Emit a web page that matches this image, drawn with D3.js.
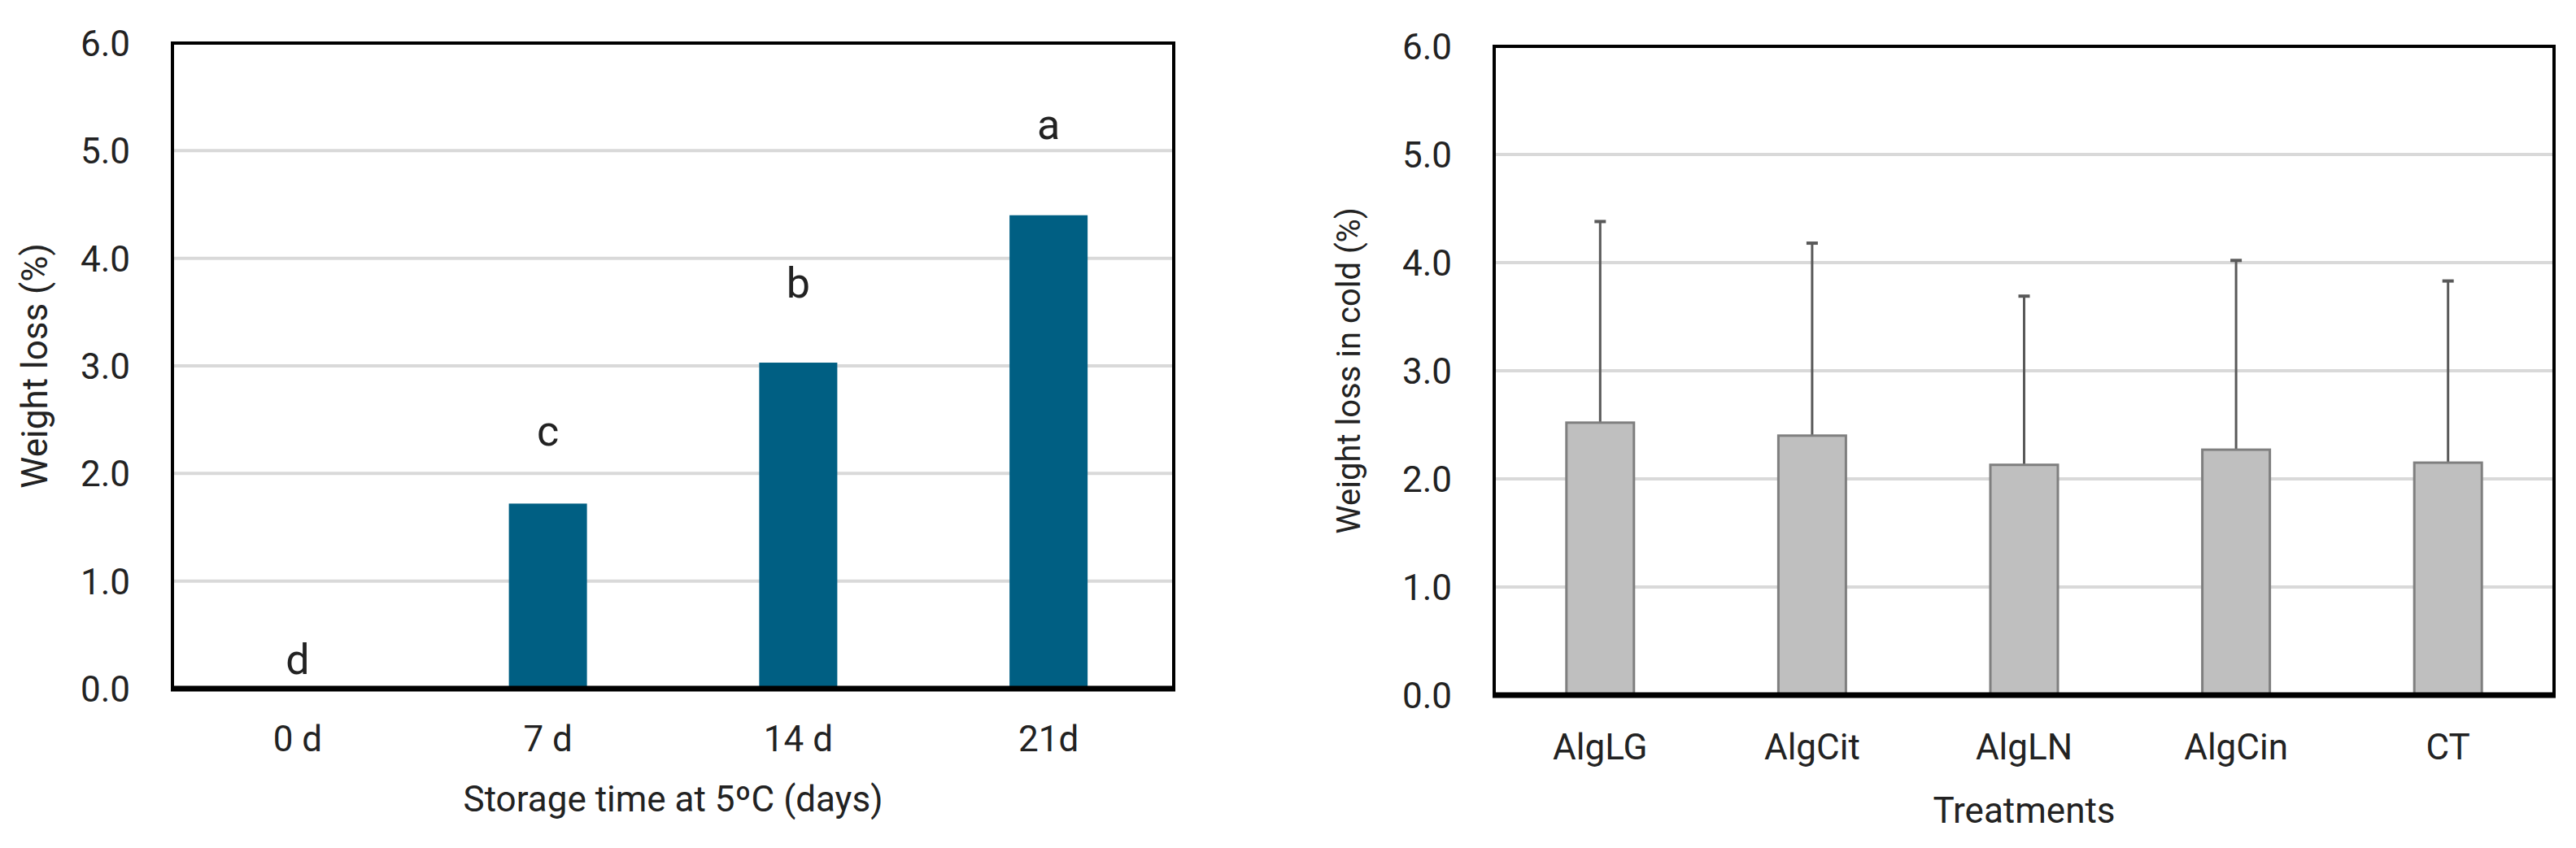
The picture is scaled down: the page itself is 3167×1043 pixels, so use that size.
<!DOCTYPE html>
<html><head><meta charset="utf-8">
<script src="https://cdn.jsdelivr.net/npm/d3@7"></script>
<style>body{margin:0;background:#fff}svg{display:block;font-family:Roboto,"Liberation Sans",sans-serif}</style>
</head><body>
<svg id="chart" width="3167" height="1043"></svg>
<script>
// left chart: storage time
var days = ['0 d', '7 d', '14 d', '21d'];
var dayMeans = [0, 1.72, 3.03, 4.40];
var dayErr = [0, 0.40, 0.47, 0.57];
var dayLetters = ['d', 'c', 'b', 'a'];

// right chart: treatments
var treatments = ['AlgLG', 'AlgCit', 'AlgLN', 'AlgCin', 'CT'];
var trtMeans = [2.52, 2.40, 2.13, 2.27, 2.15];
var trtErr = [1.86, 1.78, 1.56, 1.75, 1.68];

var yTicks = [0, 1, 2, 3, 4, 5, 6];

var svg = d3.select('#chart');

function drawPanel(o) {
  var x = d3.scaleBand().domain(o.cats).range([o.left, o.right]);
  var y = d3.scaleLinear().domain([0, 6]).range([o.bottom, o.top]);
  var g = svg.append('g');

  // gridlines
  g.selectAll('.grid').data(yTicks.slice(1, -1)).enter().append('line')
    .attr('x1', o.left).attr('x2', o.right)
    .attr('y1', function(d) { return y(d); }).attr('y2', function(d) { return y(d); })
    .attr('stroke', '#d9d9d9').attr('stroke-width', 4);

  // y tick labels
  g.selectAll('.yt').data(yTicks).enter().append('text')
    .attr('x', o.left - 52).attr('y', function(d) { return y(d) + 16; })
    .attr('text-anchor', 'end').attr('font-size', 44).attr('fill', '#222')
    .text(function(d) { return d3.format('.1f')(d); });

  var bw = o.barW;
  // error bars (upper only)
  var eb = g.selectAll('.eb').data(o.cats).enter().append('g');
  eb.filter(function(d, i) { return o.err[i] > 0; }).append('line')
    .attr('x1', function(d) { return x(d) + x.bandwidth() / 2; })
    .attr('x2', function(d) { return x(d) + x.bandwidth() / 2; })
    .attr('y1', function(d, i) { return y(o.means[i]); })
    .attr('y2', function(d, i) { return y(o.means[i] + o.err[i]); })
    .attr('stroke', '#595959').attr('stroke-width', 3);
  eb.filter(function(d, i) { return o.err[i] > 0; }).append('line')
    .attr('x1', function(d) { return x(d) + x.bandwidth() / 2 - 7; })
    .attr('x2', function(d) { return x(d) + x.bandwidth() / 2 + 7; })
    .attr('y1', function(d, i) { return y(o.means[i] + o.err[i]); })
    .attr('y2', function(d, i) { return y(o.means[i] + o.err[i]); })
    .attr('stroke', '#595959').attr('stroke-width', 4);

  // bars
  g.selectAll('.bar').data(o.cats).enter().append('rect')
    .attr('x', function(d) { return x(d) + (x.bandwidth() - bw) / 2; })
    .attr('y', function(d, i) { return y(o.means[i]); })
    .attr('width', bw)
    .attr('height', function(d, i) { return y(0) - y(o.means[i]); })
    .attr('fill', o.fill).attr('stroke', o.stroke || 'none').attr('stroke-width', 3);

  // letters
  if (o.letters) {
    g.selectAll('.lt').data(o.cats).enter().append('text')
      .attr('x', function(d) { return x(d) + x.bandwidth() / 2; })
      .attr('y', function(d, i) { return y(o.means[i] + o.err[i]) - 18; })
      .attr('text-anchor', 'middle').attr('font-size', 52).attr('fill', '#222')
      .text(function(d, i) { return o.letters[i]; });
  }

  // frame
  g.append('rect').attr('x', o.left).attr('y', o.top)
    .attr('width', o.right - o.left).attr('height', o.bottom - o.top)
    .attr('fill', 'none').attr('stroke', '#000').attr('stroke-width', 4);
  g.append('line').attr('x1', o.left - 2).attr('x2', o.right + 2)
    .attr('y1', o.bottom).attr('y2', o.bottom)
    .attr('stroke', '#000').attr('stroke-width', 7);

  // x labels
  g.selectAll('.xt').data(o.cats).enter().append('text')
    .attr('x', function(d) { return x(d) + x.bandwidth() / 2; })
    .attr('y', o.catY).attr('text-anchor', 'middle')
    .attr('font-size', 44).attr('fill', '#222').text(function(d) { return d; });

  g.append('text').attr('x', (o.left + o.right) / 2).attr('y', o.xTitleY)
    .attr('text-anchor', 'middle').attr('font-size', 44).attr('fill', '#222').text(o.xTitle);
  g.append('text').attr('transform', 'translate(' + o.yTitleX + ',' + (o.top + o.bottom) / 2 + ') rotate(-90)')
    .attr('text-anchor', 'middle').attr('font-size', o.yTitleSize).attr('fill', '#222').text(o.yTitle);
}

drawPanel({
  cats: days, means: dayMeans, err: dayErr, letters: dayLetters,
  left: 212, right: 1443, top: 53, bottom: 847, barW: 96,
  fill: '#005f83', catY: 924, xTitleY: 998,
  xTitle: 'Storage time at 5ºC (days)', yTitle: 'Weight loss  (%)', yTitleX: 58, yTitleSize: 44
});

drawPanel({
  cats: treatments, means: trtMeans, err: trtErr,
  left: 1837, right: 3140, top: 57, bottom: 855, barW: 83,
  fill: '#bfbfbf', stroke: '#7f7f7f', catY: 934, xTitleY: 1012,
  xTitle: 'Treatments', yTitle: 'Weight loss in cold (%)', yTitleX: 1672, yTitleSize: 40
});
</script>
</body></html>
